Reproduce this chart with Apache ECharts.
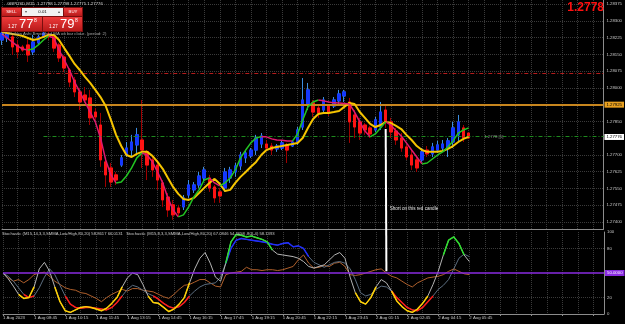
<!DOCTYPE html>
<html><head><meta charset="utf-8">
<script src="https://cdn.jsdelivr.net/npm/echarts@6/dist/echarts.min.js"></script>
<style>html,body{margin:0;padding:0;background:#000;overflow:hidden}#c{width:625px;height:324px}</style>
</head><body><div id="c"></div>
<script>
// ---------- data ----------
const timeLabels = ['1 Aug 2023','1 Aug 08:45','1 Aug 10:15','1 Aug 11:45','1 Aug 13:15','1 Aug 14:45','1 Aug 16:15','1 Aug 17:45','1 Aug 19:15','1 Aug 20:45','1 Aug 22:15','1 Aug 23:45','2 Aug 01:15','2 Aug 02:45','2 Aug 04:15','2 Aug 05:45'];
const opens = [1.28214,1.28223,1.28228,1.28192,1.28183,1.28192,1.28161,1.28201,1.28228,1.28241,
1.28232,1.28192,1.28138,1.28080,1.28035,1.27982,1.27968,1.27955,1.27892,1.27834,
1.27669,1.27642,1.27611,1.27655,1.27700,1.27722,1.27745,1.27767,1.27714,1.27678,
1.27655,1.27575,1.27512,1.27477,1.27463,1.27468,1.27521,1.27544,1.27566,1.27597,
1.27597,1.27557,1.27535,1.27553,1.27597,1.27624,1.27651,1.27687,1.27696,1.27722,
1.27749,1.27749,1.27740,1.27727,1.27731,1.27745,1.27740,1.27758,1.27825,1.27924,
1.27933,1.27910,1.27901,1.27919,1.27919,1.27942,1.27964,1.27937,1.27879,1.27848,
1.27834,1.27821,1.27812,1.27825,1.27901,1.27848,1.27807,1.27776,1.27736,1.27700,
1.27678,1.27678,1.27722,1.27705,1.27722,1.27731,1.27731,1.27758,1.27790,1.27821,
1.27798];
const highs = [1.28268,1.28259,1.28237,1.28214,1.28192,1.28223,1.28237,1.28237,1.28254,1.28250,
1.28237,1.28201,1.28147,1.28089,1.28049,1.28000,1.28004,1.27991,1.27910,1.27888,
1.27678,1.27664,1.27624,1.27700,1.27758,1.27790,1.27821,1.27946,1.27722,1.27691,
1.27678,1.27588,1.27530,1.27499,1.27477,1.27521,1.27588,1.27579,1.27624,1.27647,
1.27611,1.27566,1.27553,1.27642,1.27647,1.27664,1.27714,1.27722,1.27731,1.27790,
1.27798,1.27767,1.27754,1.27749,1.27763,1.27754,1.27767,1.27825,1.28044,1.28022,
1.27946,1.27924,1.27959,1.27928,1.27959,1.27991,1.27991,1.27955,1.27901,1.27866,
1.27843,1.27830,1.27870,1.27937,1.27924,1.27866,1.27821,1.27798,1.27745,1.27722,
1.27700,1.27731,1.27740,1.27754,1.27763,1.27767,1.27776,1.27848,1.27879,1.27834,
1.27798];
const lows = [1.28192,1.28205,1.28147,1.28134,1.28161,1.28116,1.28147,1.28192,1.28223,1.28214,
1.28161,1.28116,1.28071,1.28004,1.27959,1.27901,1.27933,1.27834,1.27857,1.27647,
1.27557,1.27557,1.27566,1.27647,1.27691,1.27691,1.27700,1.27642,1.27588,1.27602,
1.27544,1.27468,1.27423,1.27410,1.27423,1.27454,1.27508,1.27530,1.27553,1.27579,
1.27535,1.27486,1.27486,1.27535,1.27575,1.27602,1.27633,1.27664,1.27687,1.27700,
1.27731,1.27722,1.27700,1.27714,1.27722,1.27664,1.27736,1.27745,1.27812,1.27901,
1.27870,1.27866,1.27888,1.27874,1.27910,1.27928,1.27937,1.27754,1.27776,1.27767,
1.27790,1.27776,1.27803,1.27812,1.27821,1.27776,1.27745,1.27714,1.27678,1.27633,
1.27624,1.27669,1.27691,1.27691,1.27709,1.27718,1.27691,1.27731,1.27758,1.27758,
1.27775];
const closes = [1.28245,1.28241,1.28183,1.28161,1.28169,1.28147,1.28205,1.28228,1.28245,1.28228,
1.28178,1.28134,1.28089,1.28026,1.27982,1.27937,1.27946,1.27866,1.27870,1.27678,
1.27611,1.27579,1.27588,1.27687,1.27731,1.27758,1.27790,1.27722,1.27655,1.27633,
1.27588,1.27499,1.27454,1.27432,1.27441,1.27508,1.27566,1.27566,1.27606,1.27633,
1.27553,1.27508,1.27517,1.27624,1.27633,1.27651,1.27700,1.27709,1.27722,1.27776,
1.27785,1.27731,1.27722,1.27740,1.27754,1.27722,1.27758,1.27812,1.27946,1.27991,
1.27892,1.27888,1.27946,1.27892,1.27946,1.27973,1.27982,1.27848,1.27825,1.27798,
1.27812,1.27794,1.27857,1.27892,1.27848,1.27803,1.27767,1.27731,1.27691,1.27655,
1.27642,1.27714,1.27705,1.27736,1.27745,1.27749,1.27763,1.27821,1.27848,1.27776,
1.27776];
const slowMA = [1.28250,1.28245,1.28241,1.28237,1.28232,1.28223,1.28214,1.28219,1.28228,1.28237,
1.28237,1.28214,1.28178,1.28143,1.28107,1.28080,1.28049,1.28022,1.27991,1.27959,
1.27919,1.27857,1.27790,1.27740,1.27700,1.27691,1.27705,1.27714,1.27714,1.27696,
1.27669,1.27638,1.27597,1.27557,1.27526,1.27503,1.27499,1.27508,1.27530,1.27553,
1.27575,1.27593,1.27571,1.27539,1.27544,1.27575,1.27602,1.27624,1.27647,1.27669,
1.27700,1.27722,1.27731,1.27736,1.27740,1.27745,1.27749,1.27754,1.27776,1.27821,
1.27861,1.27883,1.27888,1.27888,1.27892,1.27897,1.27915,1.27933,1.27928,1.27892,
1.27866,1.27839,1.27825,1.27834,1.27848,1.27843,1.27830,1.27816,1.27790,1.27767,
1.27740,1.27722,1.27714,1.27714,1.27714,1.27718,1.27727,1.27740,1.27758,1.27772,
1.27781];
const fastMA = [1.28241,1.28223,1.28205,1.28187,1.28174,1.28169,1.28174,1.28192,1.28214,1.28232,
1.28223,1.28169,1.28125,1.28080,1.28026,1.27982,1.27937,1.27892,1.27848,1.27776,
1.27678,1.27611,1.27575,1.27579,1.27606,1.27642,1.27687,1.27709,1.27700,1.27669,
1.27624,1.27575,1.27508,1.27454,1.27423,1.27432,1.27468,1.27512,1.27544,1.27588,
1.27597,1.27575,1.27562,1.27575,1.27597,1.27633,1.27687,1.27722,1.27754,1.27776,
1.27782,1.27781,1.27772,1.27767,1.27766,1.27763,1.27762,1.27794,1.27857,1.27915,
1.27937,1.27946,1.27942,1.27937,1.27933,1.27932,1.27930,1.27928,1.27892,1.27848,
1.27807,1.27781,1.27794,1.27821,1.27848,1.27834,1.27807,1.27785,1.27754,1.27722,
1.27691,1.27660,1.27664,1.27682,1.27700,1.27714,1.27736,1.27763,1.27798,1.27812,
1.27821];
const stochFast = [50,43,34,24,19,20,33,55,63,52, 33,15,4,2,5,8,9,8,6,4, 7,13,20,33,44,50,48,36,22,14,
13,8,3,6,12,20,38,55,68,75, 62,45,40,62,88,97,96,94,95,93, 91,88,78,73,72,71,70,68,64,58,
56,58,60,66,72,75,68,45,26,15, 12,20,33,42,38,28,16,9,4,2, 6,13,22,36,52,72,90,94,86,72,64];
const stochSignal = [50,46,40,32,24,20,22,32,45,55, 48,35,22,12,8,7,8,8,7,6, 5,8,14,22,30,35,33,29,25,22,
18,13,9,7,9,14,22,28,33,36, 37,38,45,62,80,90,92,91,90,89, 88,87,85,84,86,87,82,83,80,70,
63,60,57,60,63,64,62,55,42,26, 22,24,30,34,33,28,20,14,8,5, 4,8,15,22,30,35,42,55,68,73,70];
const stochSlow = [50,44,40,42,38,42,48,50,51,46, 40,36,32,30,29,26,25,22,19,15, 20,24,27,30,28,31,31,29,28,27,
24,21,19,24,30,35,36,39,42,42, 38,34,33,48,50,51,52,57,54,54, 53,54,54,53,54,56,58,66,72,62,
56,57,59,58,62,63,58,48,47,48, 50,52,54,55,50,46,44,40,36,33, 38,41,44,45,46,48,52,55,52,49,48];
const priceTicks = [1.28375,1.28300,1.28225,1.28150,1.28075,1.28000,1.27850,1.27700,1.27625,1.27550,1.27475,1.27400];
const stochLabels = [0,20,80,100];
const stochGrid = [20,80];
const orangeLevel = 1.27925, redLevel = 1.28067, greenLevel = 1.27785, currentPrice = 1.27776;
const stochMid = 50, shortBar = 74, noteLevel = 1.27459;
const header = 'GBPUSD,M15  1.27798 1.27798 1.27775 1.27776';

// ---------- build ----------
const N = 117;
const cats = Array.from({length:N}, (_, i) => String(i));
const candleFull = opens.map((o, i) => [o, closes[i], lows[i], highs[i]]);
const candleBody = opens.map((o, i) => [o, closes[i], Math.min(o, closes[i]), Math.max(o, closes[i])]);
const fastUp = fastMA.map(() => null), fastDn = fastMA.map(() => null);
for (let i = 1; i < fastMA.length; i++) {
  const t = fastMA[i] >= fastMA[i-1] ? fastUp : fastDn;
  t[i-1] = fastMA[i-1]; t[i] = fastMA[i];
}
function zone(arr, cond) {
  return arr.map((v, i) => (cond(v) || (i > 0 && cond(arr[i-1])) || (i < arr.length-1 && cond(arr[i+1]))) ? v : null);
}
const FONT = 'Liberation Sans';
const small = {fontSize: 4.3, fontFamily: FONT};
const gridLine = {show: true, lineStyle: {color: '#3a3a3a', type: 'dotted', width: 1}};
const axisCol = '#8c8c8c';

const chart = echarts.init(document.getElementById('c'), null, {renderer: 'canvas'});
const option = {
  backgroundColor: '#000',
  animation: false,
  grid: [
    {left: 2, top: 0, width: 602, height: 229},
    {left: 2, top: 232, width: 602, height: 82}
  ],
  xAxis: [
    {gridIndex: 0, type: 'category', data: cats, boundaryGap: false,
     axisLine: {show: true, onZero: false, lineStyle: {color: axisCol}},
     axisTick: {show: false}, axisLabel: {show: false},
     splitLine: Object.assign({interval: i => i % 3 === 0}, gridLine)},
    {gridIndex: 1, type: 'category', data: cats, boundaryGap: false,
     axisLine: {show: true, onZero: false, lineStyle: {color: axisCol}},
     axisTick: {show: true, length: 2, interval: i => i % 6 === 0, lineStyle: {color: axisCol}},
     axisLabel: Object.assign({show: true, interval: i => i % 6 === 0, formatter: (v, i) => timeLabels[i / 6] || '',
       color: '#c8c8c8', align: 'left', margin: 2}, small),
     splitLine: Object.assign({interval: i => i % 3 === 0}, gridLine)}
  ],
  yAxis: [
    {gridIndex: 0, type: 'value', position: 'right', min: 1.27369, max: 1.28393,
     axisLine: {show: true, lineStyle: {color: axisCol}},
     axisTick: {show: false, customValues: priceTicks},
     axisLabel: Object.assign({customValues: priceTicks, formatter: v => v.toFixed(5), color: '#c8c8c8', margin: 3}, small),
     splitLine: gridLine},
    {gridIndex: 1, type: 'value', position: 'right', min: 0, max: 100,
     axisLine: {show: true, lineStyle: {color: axisCol}},
     axisTick: {show: false, customValues: stochGrid},
     axisLabel: Object.assign({customValues: stochLabels, color: '#c8c8c8', margin: 3}, small),
     splitLine: gridLine}
  ],
  series: [
    {type: 'candlestick', xAxisIndex: 0, yAxisIndex: 0, data: candleFull, barWidth: 3, z: 3,
     itemStyle: {color: '#3c8ee0', color0: '#a00000', borderColor: '#3c8ee0', borderColor0: '#a00000', borderWidth: 1}},
    {type: 'candlestick', xAxisIndex: 0, yAxisIndex: 0, data: candleBody, barWidth: 3, z: 4,
     itemStyle: {color: '#1438ff', color0: '#ff1414', borderColor: '#1438ff', borderColor0: '#ff1414', borderWidth: 1}},
    {type: 'line', xAxisIndex: 0, yAxisIndex: 0, data: slowMA, symbol: 'none', z: 5,
     lineStyle: {color: '#f5c400', width: 2},
     markLine: {silent: true, precision: 5, symbol: ['none', 'none'], animation: false, data: [
       {yAxis: orangeLevel, lineStyle: {color: '#c8861e', width: 2, type: 'solid'},
        label: Object.assign({show: true, position: 'end', formatter: orangeLevel.toFixed(5), color: '#000', backgroundColor: '#e8a020', padding: [1, 2], distance: 1}, small)},
       [{coord: [7, redLevel], lineStyle: {color: '#b41c1c', width: 1, type: [4, 2, 1, 2]}, label: {show: false}}, {coord: [N - 1, redLevel]}],
       [{coord: [8, greenLevel], lineStyle: {color: '#1e8a1e', width: 1, type: [4, 2, 1, 2]},
         label: Object.assign({show: true, position: 'end', formatter: currentPrice.toFixed(5), color: '#000', backgroundColor: '#ffffff', padding: [1, 2], distance: 1, offset: [0, 1]}, small)},
        {coord: [N - 1, greenLevel]}]
     ]}},
    {type: 'line', xAxisIndex: 0, yAxisIndex: 0, data: fastDn, symbol: 'none', z: 6, lineStyle: {color: '#e0196e', width: 1.5}},
    {type: 'line', xAxisIndex: 0, yAxisIndex: 0, data: fastUp, symbol: 'none', z: 6, lineStyle: {color: '#22c422', width: 1.5}},
    // stochastic panel
    {type: 'line', xAxisIndex: 1, yAxisIndex: 1, data: stochSlow, symbol: 'none', z: 3, lineStyle: {color: '#b0602c', width: 1},
     markLine: {silent: true, precision: 4, symbol: ['none', 'none'], data: [
       {yAxis: stochMid, lineStyle: {color: '#8a2be2', width: 1.5, type: 'solid'},
        label: Object.assign({show: true, position: 'end', formatter: stochMid.toFixed(4), color: '#fff', backgroundColor: '#8a2be2', padding: [1, 2], distance: 1}, small)}]}},
    {type: 'line', xAxisIndex: 1, yAxisIndex: 1, data: stochSignal, symbol: 'none', z: 3, lineStyle: {color: '#5c6e80', width: 1}},
    {type: 'line', xAxisIndex: 1, yAxisIndex: 1, data: stochFast, symbol: 'none', z: 3, lineStyle: {color: '#b4b4b4', width: 1}},
    {type: 'line', xAxisIndex: 1, yAxisIndex: 1, data: zone(stochSignal, v => v >= 80), symbol: 'none', z: 4, lineStyle: {color: '#1f2cff', width: 1.5}},
    {type: 'line', xAxisIndex: 1, yAxisIndex: 1, data: zone(stochFast, v => v >= 80), symbol: 'none', z: 5, lineStyle: {color: '#2ee02e', width: 1.5}},
    {type: 'line', xAxisIndex: 1, yAxisIndex: 1, data: zone(stochSignal, v => v <= 20), symbol: 'none', z: 4, lineStyle: {color: '#ff1a1a', width: 1.5}},
    {type: 'line', xAxisIndex: 1, yAxisIndex: 1, data: zone(stochFast, v => v <= 20), symbol: 'none', z: 5, lineStyle: {color: '#ffd000', width: 1.5}}
  ]
};
chart.setOption(option);

// annotations positioned through the chart's own scales
const pLow = chart.convertToPixel({xAxisIndex: 0, yAxisIndex: 0}, [shortBar, lows[shortBar]]);
const pSt = chart.convertToPixel({xAxisIndex: 1, yAxisIndex: 1}, [shortBar, 52]);
const pNote = chart.convertToPixel({xAxisIndex: 0, yAxisIndex: 0}, [shortBar, noteLevel]);
const pEnd = chart.convertToPixel({xAxisIndex: 0, yAxisIndex: 0}, [93, slowMA[slowMA.length - 1]]);
const txt = (x, y, text, fill, size, extra) => ({type: 'text', x, y, z: 100, silent: true,
  style: Object.assign({text, fill, fontSize: size, fontFamily: FONT, verticalAlign: 'middle', align: 'left'}, extra || {})});
const rect = (x, y, w, h, fill) => ({type: 'rect', z: 99, silent: true, shape: {x, y, width: w, height: h}, style: {fill}});
const redGrad = {type: 'linear', x: 0, y: 0, x2: 0, y2: 1, colorStops: [{offset: 0, color: '#ee3b3b'}, {offset: 1, color: '#b81a1a'}]};
chart.setOption({graphic: [
  {type: 'line', z: 98, silent: true, shape: {x1: pLow[0], y1: pLow[1] + 1, x2: pSt[0], y2: pSt[1]}, style: {stroke: '#ffffff', lineWidth: 2}},
  txt(pNote[0] + 4, pNote[1], 'Short on this red candle', '#e8e8e8', 4.6),
  txt(pEnd[0], pEnd[1], '1.2778 [5]', '#8a8a8a', 4.3),
  txt(7, 4, header, '#d0d0d0', 4.3),
  txt(604, 8, '1.2778', '#ff1010', 12, {align: 'right', fontWeight: 'bold'}),
  rect(1, 7, 82, 25, '#7a0e0e'),
  rect(2, 8, 19, 8, redGrad), rect(22, 8, 41, 8, '#f2f2f2'), rect(64, 8, 18, 8, redGrad),
  rect(2, 17, 40, 14, redGrad), rect(43, 17, 39, 14, redGrad),
  txt(11.5, 12, 'SELL', '#ffffff', 4.3, {align: 'center'}),
  txt(73, 12, 'BUY', '#ffffff', 4.3, {align: 'center'}),
  txt(42.5, 12, '0.01', '#000000', 4.3, {align: 'center'}),
  txt(26, 12, '▾', '#555555', 4.3, {align: 'center'}),
  txt(59, 12, '▴', '#555555', 4.3, {align: 'center'}),
  txt(8, 26.5, '1.27', '#ffffff', 4.5),
  txt(19, 24.5, '77', '#ffffff', 13),
  txt(34, 20.5, '8', '#ffffff', 5),
  txt(49, 26.5, '1.27', '#ffffff', 4.5),
  txt(60, 24.5, '79', '#ffffff', 13),
  txt(75, 20.5, '8', '#ffffff', 5),
  txt(2, 34, 'LP Heiken Ashi Smoothed MA on bar close. (period: 2)', '#a8a8a8', 4.3),
  txt(2, 234, 'Stochastic (M15,14,3,3,SMMA,Low/High,80,20) 58.8617 66.0131   Stochastic (M15,8,3,3,SMMA,Low/High,80,20) 67.0846 54.4658 ,80(-4) 58.1393', '#c8c8c8', 4.2)
]});
</script></body></html>
